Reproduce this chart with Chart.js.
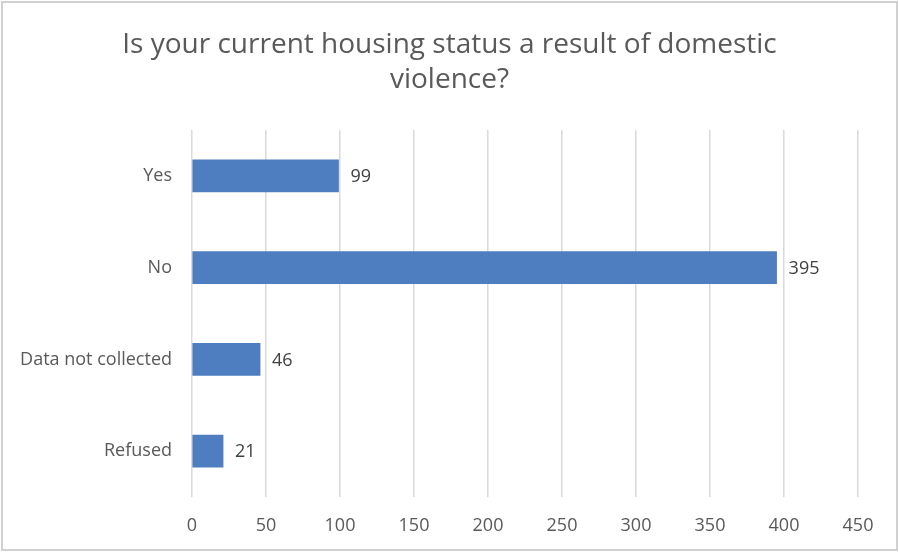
<!DOCTYPE html>
<html>
<head>
<meta charset="utf-8">
<script src="https://cdn.jsdelivr.net/npm/chart.js@4/dist/chart.umd.min.js"></script>
<style>
  html, body { margin: 0; padding: 0; background: #fff; }
  #wrap { width: 899px; height: 552px; position: relative; }
</style>
</head>
<body>
<div id="wrap"><canvas id="grafico"></canvas></div>
<script>
var categorias = ['Yes', 'No', 'Data not collected', 'Refused'];
var valores = [99, 395, 46, 21];
var tituloLinhas = ['Is your current housing status a result of domestic', 'violence?'];

var fonte = "'Open Sans', 'Lato', sans-serif";

// moldura cinza em volta do grafico + titulo centrado na pagina
var moldura = {
	id: 'moldura',
	beforeDraw: function(chart) {
		var ctx = chart.ctx;
		ctx.save();
		ctx.fillStyle = '#fff';
		ctx.fillRect(0, 0, chart.width, chart.height);
		ctx.strokeStyle = '#d0d0d0';
		ctx.lineWidth = 2;
		ctx.strokeRect(2, 2, chart.width - 4, chart.height - 4);

		ctx.font = '28px ' + fonte;
		ctx.fillStyle = '#595959';
		ctx.textAlign = 'center';
		ctx.textBaseline = 'middle';
		tituloLinhas.forEach(function(linha, i) {
			ctx.fillText(linha, chart.width / 2, 45 + i * 35);
		});
		ctx.restore();
	}
};

// rotulos de valor na ponta das barras
var rotulos = {
	id: 'rotulos',
	afterDatasetsDraw: function(chart) {
		var ctx = chart.ctx;
		var meta = chart.getDatasetMeta(0);
		ctx.save();
		ctx.font = '18px ' + fonte;
		ctx.fillStyle = '#404040';
		ctx.textAlign = 'left';
		ctx.textBaseline = 'middle';
		meta.data.forEach(function(bar, i) {
			ctx.fillText(chart.data.datasets[0].data[i], bar.x + 12, bar.y + 1);
		});
		ctx.restore();
	}
};

var grafico = new Chart(document.getElementById('grafico').getContext('2d'), {
	type: 'bar',
	data: {
		labels: categorias,
		datasets: [{
			data: valores,
			backgroundColor: '#4f7ec0',
			barThickness: 32
		}]
	},
	options: {
		indexAxis: 'y',
		responsive: true,
		maintainAspectRatio: false,
		animation: false,
		layout: { padding: { top: 130, right: 41, bottom: 10, left: 10 } },
		plugins: {
			legend: { display: false },
			tooltip: { enabled: false },
			title: { display: false }
		},
		scales: {
			x: {
				min: 0,
				max: 450,
				ticks: {
					stepSize: 50,
					color: '#595959',
					padding: 18,
					font: { family: fonte, size: 18 }
				},
				grid: { color: '#d9d9d9', lineWidth: 1.5, drawTicks: false },
				border: { display: false },
				afterFit: function(scale) { scale.height = 45; }
			},
			y: {
				ticks: {
					color: '#595959',
					padding: 20,
					font: { family: fonte, size: 18 }
				},
				grid: { display: false, drawTicks: false },
				border: { display: false },
				afterFit: function(scale) { scale.width = 182; }
			}
		}
	},
	plugins: [moldura, rotulos]
});
</script>
</body>
</html>
